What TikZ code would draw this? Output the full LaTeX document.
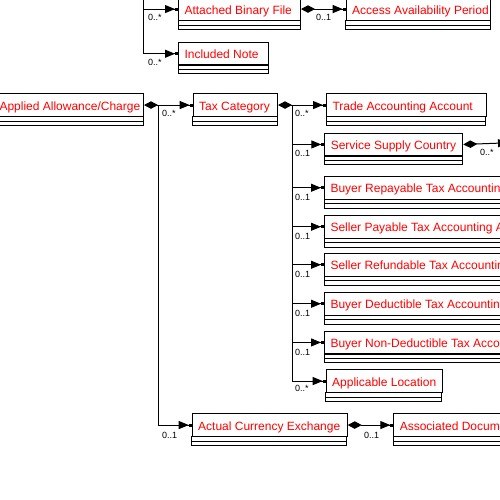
\documentclass[tikz,border=0pt]{standalone}
\usepackage{fontspec}
\setmainfont{Liberation Sans}
\usetikzlibrary{arrows.meta}
\newcommand\umlbox[5]{%
  \pgfmathsetmacro\bw{#4-12}%
  \node[titlebox] (#1) at (#2,#3) {\makebox[\bw pt][l]{#5}};
  \draw[boxline] (#1.south west) rectangle ++(#4,8.5);
  \draw[boxline] ([yshift=-4.25pt]#1.south west) -- ++(#4,0);
}
\begin{document}
\begin{tikzpicture}[x=1pt,y=-1pt,
  titlebox/.style={draw, line width=1pt, anchor=north west, minimum height=22.5pt,
    inner xsep=6pt, inner ysep=0pt, text height=11.5pt, text depth=1.5pt,
    text=red, font=\fontsize{12}{14}\selectfont},
  boxline/.style={line width=1pt},
  arr/.style={line width=1pt, -{Triangle[length=10pt,width=8pt]Rectangle[length=3pt,width=3pt]}},
  dia/.style={line width=1pt, {Diamond[length=14pt,width=7.5pt]}-},
  diaarr/.style={line width=1pt, {Diamond[length=14pt,width=7.5pt]}-{Triangle[length=10pt,width=8pt]Rectangle[length=3pt,width=3pt]}},
  lab/.style={anchor=base west, inner sep=0pt, font=\fontsize{9}{10}\selectfont}]
\useasboundingbox (0,0) rectangle (500,500);
\clip (0,0) rectangle (500,500);
\fill[white] (0,0) rectangle (500,500);

\umlbox{att}{178}{-2.7}{122}{Attached Binary File}
\umlbox{acc}{345.7}{-2.7}{144.3}{Access Availability Period}
\umlbox{inc}{178}{42}{90}{Included Note}
\umlbox{aac}{-7}{93.3}{150}{Applied Allowance/Charge}
\umlbox{tax}{192.7}{93.3}{84.3}{Tax Category}
\umlbox{trade}{326}{93.3}{159.7}{Trade Accounting Account}
\umlbox{ssc}{324.3}{132.7}{138}{Service Supply Country}
\umlbox{brt}{324}{176}{300}{Buyer Repayable Tax Accounting Account}
\umlbox{spt}{324}{215}{300}{Seller Payable Tax Accounting Account}
\umlbox{srt}{324}{253}{300}{Seller Refundable Tax Accounting Account}
\umlbox{bdt}{324}{292}{300}{Buyer Deductible Tax Accounting Account}
\umlbox{bnd}{324}{330.7}{300}{Buyer Non-Deductible Tax Accounting Account}
\umlbox{apl}{325.7}{369.3}{116}{Applicable Location}
\umlbox{ace}{191.7}{413.3}{155}{Actual Currency Exchange}
\umlbox{asd}{393.3}{413.3}{300}{Associated Document}

% top trunk
\coordinate (toptop) at (143.3,-5);
\draw[arr] (toptop) |- (att.west);
\draw[arr] (toptop) |- (inc.west);
\draw[diaarr] (att.east) -- (acc.west);

% applied allowance trunk
\draw[dia] (aac.east) -- ++(14,0) coordinate (ja);
\draw[arr] (ja) -- (tax.west);
\draw[arr] (ja) |- (ace.west);

% tax category trunk
\draw[dia] (tax.east) -- ++(14,0) coordinate (jt);
\foreach \t in {trade,ssc,brt,spt,srt,bdt,bnd,apl}{
  \draw[arr] (jt) |- (\t.west);
}

% service supply country outgoing
\coordinate (sscend) at (511,142.7);
\draw[diaarr] (ssc.east) -- (sscend);

\draw[diaarr] (ace.east) -- (asd.west);

% labels
\node[lab] (l1) at (148,21) {0..*};
\node[lab] (l2) at (148,66) {0..*};
\node[lab] (l3) at (316,21) {0..1};
\node[lab] (l4) at (162,117) {0..*};
\node[lab] (l5) at (295,117) {0..*};
\node[lab] (l6) at (295,156) {0..1};
\node[lab] (l7) at (295,200) {0..1};
\node[lab] (l8) at (295,239) {0..1};
\node[lab] (l9) at (295,277) {0..1};
\node[lab] (l10) at (295,316) {0..1};
\node[lab] (l11) at (295,355) {0..1};
\node[lab] (l12) at (295,391) {0..*};
\node[lab] (l13) at (480,155) {0..*};
\node[lab] (l14) at (162,438) {0..1};
\node[lab] (l15) at (364,438) {0..1};
\end{tikzpicture}
\end{document}
